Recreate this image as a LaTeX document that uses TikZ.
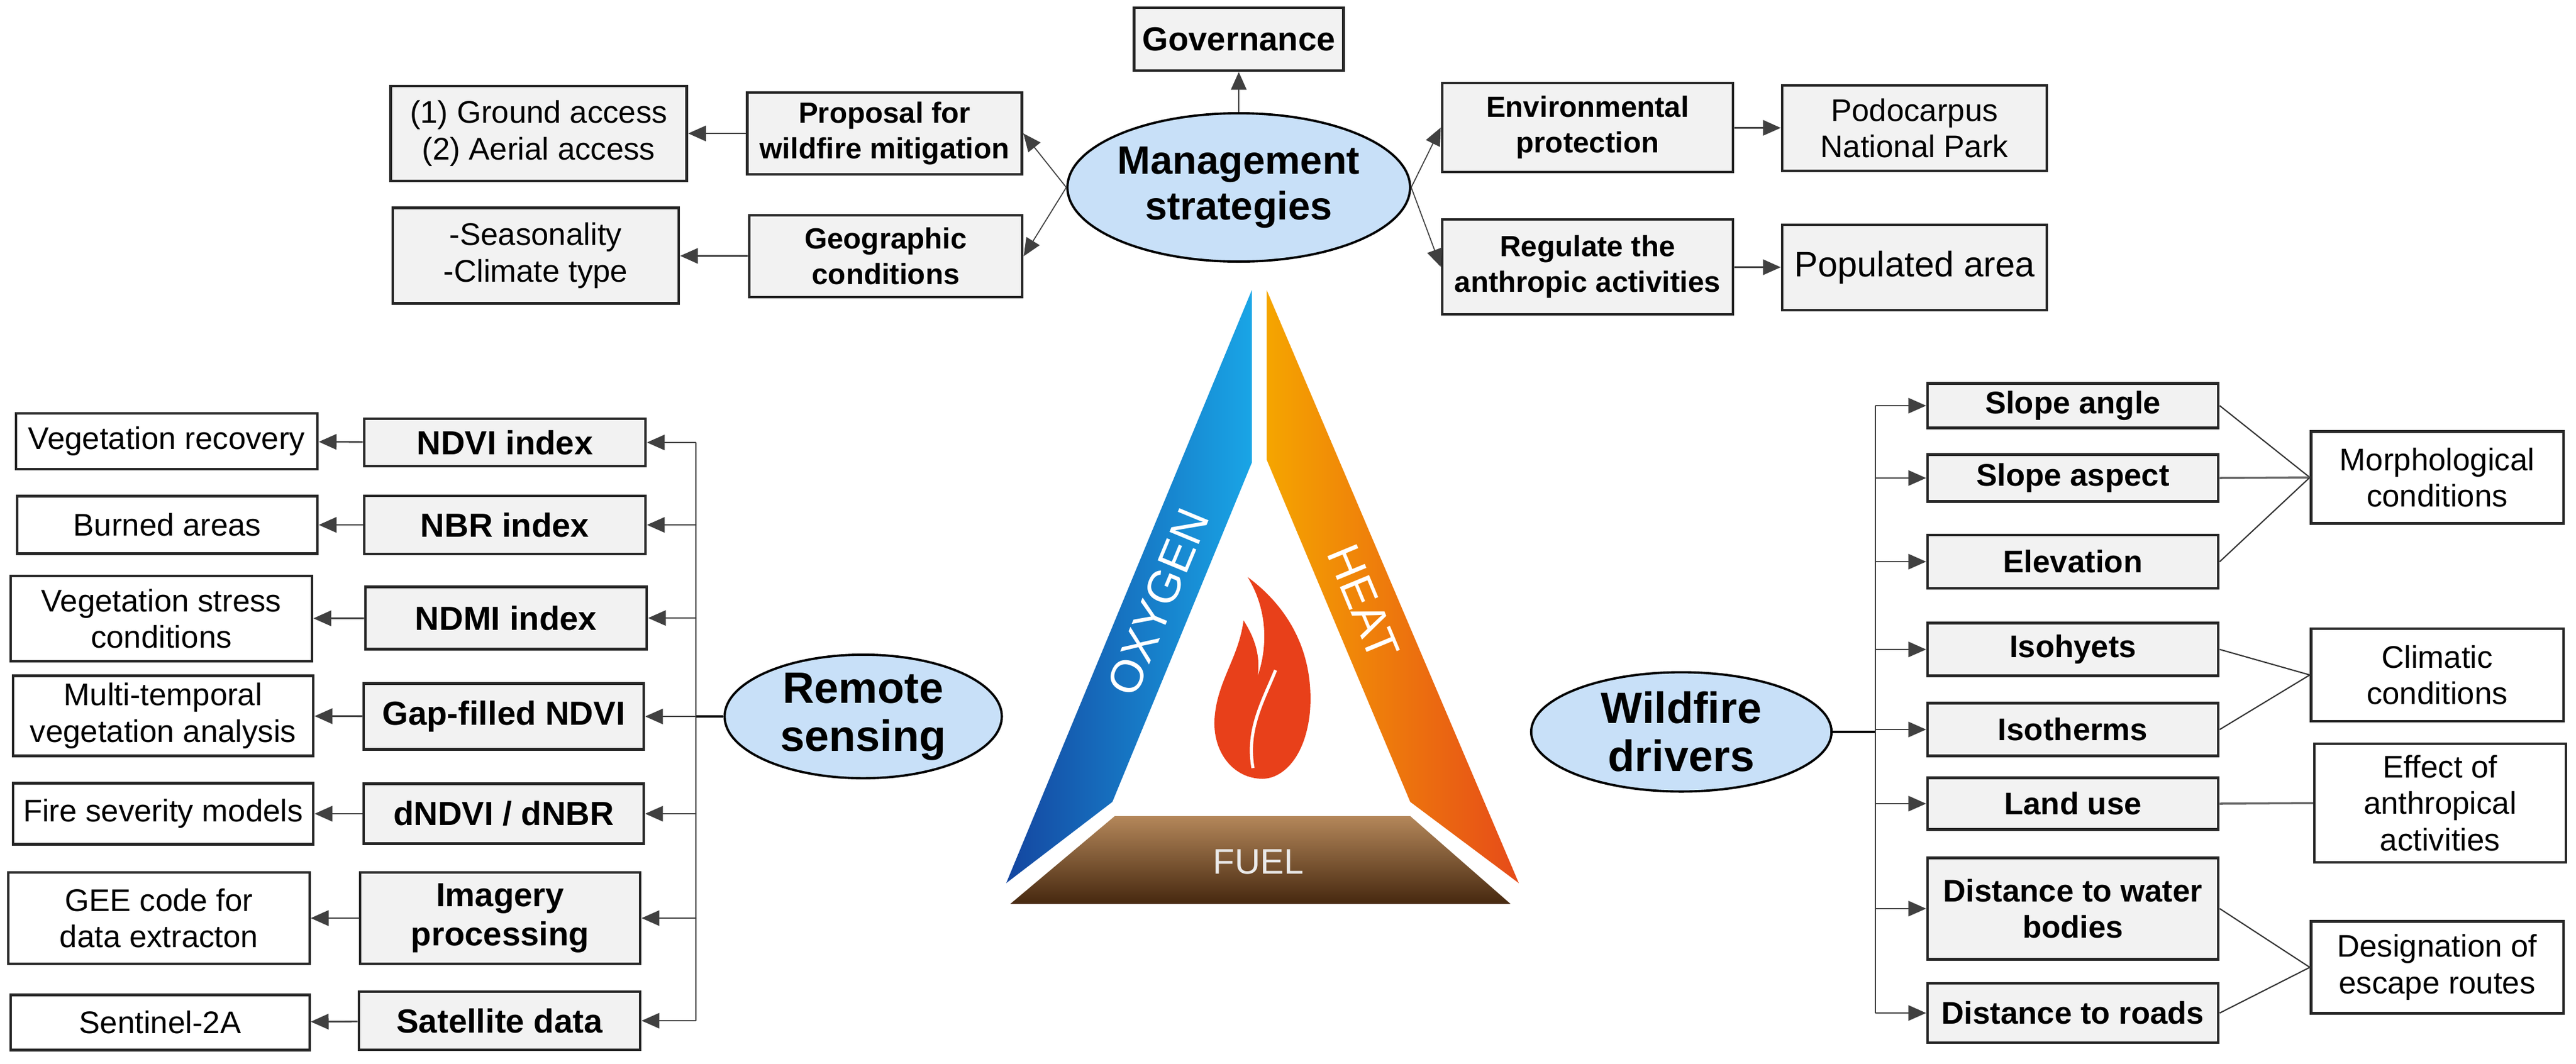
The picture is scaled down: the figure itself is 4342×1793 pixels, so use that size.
\documentclass[tikz,border=0pt]{standalone}
\usepackage{fontspec}
\setmainfont{Liberation Sans}
\usetikzlibrary{arrows.meta,shapes.geometric}
\definecolor{myblue}{HTML}{C8E0F8}
\definecolor{bdark}{RGB}{20,70,160}
\definecolor{blight}{RGB}{25,165,230}
\definecolor{oyel}{RGB}{245,165,0}
\definecolor{ored}{RGB}{230,75,25}
\definecolor{ftop}{RGB}{180,135,90}
\definecolor{fbot}{RGB}{70,40,15}
\definecolor{flame}{RGB}{232,64,26}
\begin{document}
\begin{tikzpicture}[x=0.01cm,y=-0.01cm,
  gbox/.style={draw=black!85,line width=1.3pt,fill=black!5,align=center,inner sep=1pt,font=\fontsize{15}{17.5}\selectfont\bfseries},
  lbox/.style={gbox,font=\fontsize{16}{19}\selectfont\bfseries},
  wbox/.style={draw=black!85,line width=1.2pt,fill=white,align=center,inner sep=1pt,font=\fontsize{15}{17.5}\selectfont},
  tbox/.style={wbox,fill=black!5,line width=1.3pt},
  ell/.style={ellipse,draw=black,line width=1.1pt,fill=myblue,align=center,inner sep=0pt,font=\fontsize{21}{23}\selectfont\bfseries},
  arr/.style={-{Triangle[length=0.3cm,width=0.26cm]},line width=0.8pt,draw=black!75},
  ln/.style={line width=0.6pt,draw=black!80},
  sz/.style 2 args={minimum width=#1cm,minimum height=#2cm}
]
\useasboundingbox (0,0) rectangle (4342,1793);
% ---- fire triangle ----
\shade[left color=bdark,right color=blight]
  (2110,489) -- (2110,780) -- (1875,1352) -- (1696,1489) -- cycle;
\shade[left color=oyel,right color=ored]
  (2135,489) -- (2135,775) -- (2377,1352) -- (2560,1489) -- cycle;
\shade[top color=ftop,bottom color=fbot]
  (1879,1376) -- (2377,1376) -- (2546,1524) -- (1703,1524) -- cycle;
\node[rotate=67.5,text=white,font=\fontsize{22}{22}\selectfont] (oxy) at (1952,1015) {OXYGEN};
\node[rotate=-67.5,text=white,font=\fontsize{22}{22}\selectfont] (heat) at (2298,1015) {HEAT};
\node[text=black!8,font=\fontsize{17}{17}\selectfont] (fuel) at (2121,1453) {FUEL};
\fill[flame] (2103,973) .. controls (2180,1030) and (2215,1110) .. (2208,1200)
  .. controls (2200,1280) and (2160,1313) .. (2128,1313)
  .. controls (2080,1313) and (2045,1270) .. (2047,1215)
  .. controls (2050,1150) and (2088,1110) .. (2096,1046)
  .. controls (2118,1080) and (2124,1110) .. (2120,1140)
  .. controls (2140,1080) and (2132,1020) .. cycle;
\draw[white,line width=1.5pt] (2112,1295) .. controls (2100,1230) and (2130,1180) .. (2150,1130);
% ---- management ----
\node[ell,font=\fontsize{19}{22}\selectfont\bfseries,sz={5.08}{2.5}] (ms) at (2088,316) {Management\\strategies};
\node[gbox,font=\fontsize{16}{18}\selectfont\bfseries,sz={3.53}{1.06}] (gov) at (2088,66) {Governance};
\node[gbox,font=\fontsize{14}{17}\selectfont\bfseries,sz={4.63}{1.38}] (prop) at (1491,225) {Proposal for\\wildfire mitigation};
\node[gbox,font=\fontsize{14}{17}\selectfont\bfseries,sz={4.60}{1.38}] (geo) at (1493,432) {Geographic\\conditions};
\node[tbox,sz={4.99}{1.60}] (ground) at (908,225) {(1) Ground access\\(2) Aerial access};
\node[tbox,sz={4.82}{1.61}] (seas) at (903,431) {-Seasonality\\-Climate type};
\node[gbox,font=\fontsize{14}{17}\selectfont\bfseries,sz={4.90}{1.50}] (env) at (2676,215) {Environmental\\protection};
\node[gbox,font=\fontsize{14}{17}\selectfont\bfseries,sz={4.90}{1.60}] (reg) at (2676,450) {Regulate the\\anthropic activities};
\node[tbox,sz={4.46}{1.44}] (podo) at (3227,216) {Podocarpus\\National Park};
\node[tbox,font=\fontsize{17}{20}\selectfont,sz={4.46}{1.44}] (pop) at (3227,451) {Populated area};
\draw[arr] (ms.north) -- (gov.south);
\draw[arr,line width=0.5pt] (ms.west) -- (prop.east);
\draw[arr,line width=0.5pt] (ms.west) -- (geo.east);
\draw[arr,line width=0.5pt] (ms.east) -- (env.west);
\draw[arr,line width=0.5pt] (ms.east) -- (reg.west);
\draw[arr] (prop) -- (ground);
\draw[arr] (geo) -- (seas);
\draw[arr] (env) -- (podo);
\draw[arr] (reg) -- (pop);
% ---- remote sensing ----
\node[ell,sz={4.67}{1.91}] (rs) at (1455,1208) {Remote\\sensing};
\node[lbox,sz={4.74}{0.80}] (ndvi) at (851,746) {NDVI index};
\node[lbox,sz={4.74}{0.98}] (nbr) at (851,885) {NBR index};
\node[lbox,sz={4.74}{1.05}] (ndmi) at (853,1042) {NDMI index};
\node[lbox,sz={4.72}{1.11}] (gap) at (849,1208) {Gap-filled NDVI};
\node[lbox,sz={4.72}{1.01}] (dnd) at (849,1372) {dNDVI / dNBR};
\node[lbox,sz={4.72}{1.54}] (img) at (843,1548) {Imagery\\processing};
\node[lbox,sz={4.74}{0.98}] (sat) at (842,1721) {Satellite data};
\node[wbox,sz={5.08}{0.94}] (vr) at (281,744) {Vegetation recovery};
\node[wbox,sz={5.06}{0.97}] (ba) at (282,885) {Burned areas};
\node[wbox,sz={5.08}{1.44}] (vs) at (272,1043) {Vegetation stress\\conditions};
\node[wbox,sz={5.06}{1.35}] (mt) at (275,1207) {Multi-temporal\\vegetation analysis};
\node[wbox,sz={5.06}{1.03}] (fs) at (275,1372) {Fire severity models};
\node[wbox,sz={5.07}{1.54}] (gee) at (268,1548) {GEE code for\\data extracton};
\node[wbox,sz={5.03}{0.93}] (sen) at (270,1724) {Sentinel-2A};
\coordinate (bl) at (1173,1208);
\coordinate (blt) at (1173,746);
\coordinate (blb) at (1173,1721);
\draw[line width=1.2pt] (rs.west) -- (bl);
\draw[ln] (blt) -- (blb);
\foreach \n in {ndvi,nbr,ndmi,gap,dnd,img,sat}{\draw[arr,line width=0.6pt] (\n.east -| bl) -- (\n.east);}
\draw[arr] (ndvi) -- (vr);
\draw[arr] (nbr) -- (ba);
\draw[arr] (ndmi) -- (vs);
\draw[arr] (gap) -- (mt);
\draw[arr] (dnd) -- (fs);
\draw[arr] (img) -- (gee);
\draw[arr] (sat) -- (sen);
% ---- wildfire drivers ----
\node[ell,sz={5.06}{2.01}] (wd) at (2834,1234) {Wildfire\\drivers};
\node[gbox,sz={4.90}{0.75}] (sa) at (3494,684) {Slope angle};
\node[gbox,sz={4.90}{0.79}] (sasp) at (3494,806) {Slope aspect};
\node[gbox,sz={4.90}{0.90}] (elev) at (3494,947) {Elevation};
\node[gbox,sz={4.90}{0.89}] (isoh) at (3494,1095) {Isohyets};
\node[gbox,sz={4.90}{0.89}] (isot) at (3494,1230) {Isotherms};
\node[gbox,sz={4.90}{0.87}] (land) at (3494,1355) {Land use};
\node[gbox,sz={4.90}{1.71}] (water) at (3494,1532) {Distance to water\\bodies};
\node[gbox,sz={4.90}{1.00}] (roads) at (3494,1708) {Distance to roads};
\node[wbox,sz={4.25}{1.55}] (morph) at (4108,805) {Morphological\\conditions};
\node[wbox,sz={4.25}{1.56}] (clim) at (4108,1138) {Climatic\\conditions};
\node[wbox,sz={4.24}{2.00}] (eff) at (4113,1354) {Effect of\\anthropical\\activities};
\node[wbox,sz={4.25}{1.55}] (des) at (4108,1631) {Designation of\\escape routes};
\coordinate (br) at (3161,1234);
\coordinate (brt) at (3161,684);
\coordinate (brb) at (3161,1708);
\draw[line width=1.2pt] (wd.east) -- (br);
\draw[ln] (brt) -- (brb);
\foreach \n in {sa,sasp,elev,isoh,isot,land,water,roads}{\draw[arr,line width=0.6pt] (\n.west -| br) -- (\n.west);}
\draw[ln] (sa.east) -- (morph.west);
\draw[ln,line width=1pt,draw=black!60] (sasp.east) -- (morph.west);
\draw[ln] (elev.east) -- (morph.west);
\draw[ln] (isoh.east) -- (clim.west);
\draw[ln] (isot.east) -- (clim.west);
\draw[ln,line width=1pt,draw=black!60] (land.east) -- (eff.west);
\draw[ln] (water.east) -- (des.west);
\draw[ln] (roads.east) -- (des.west);
\end{tikzpicture}
\end{document}
